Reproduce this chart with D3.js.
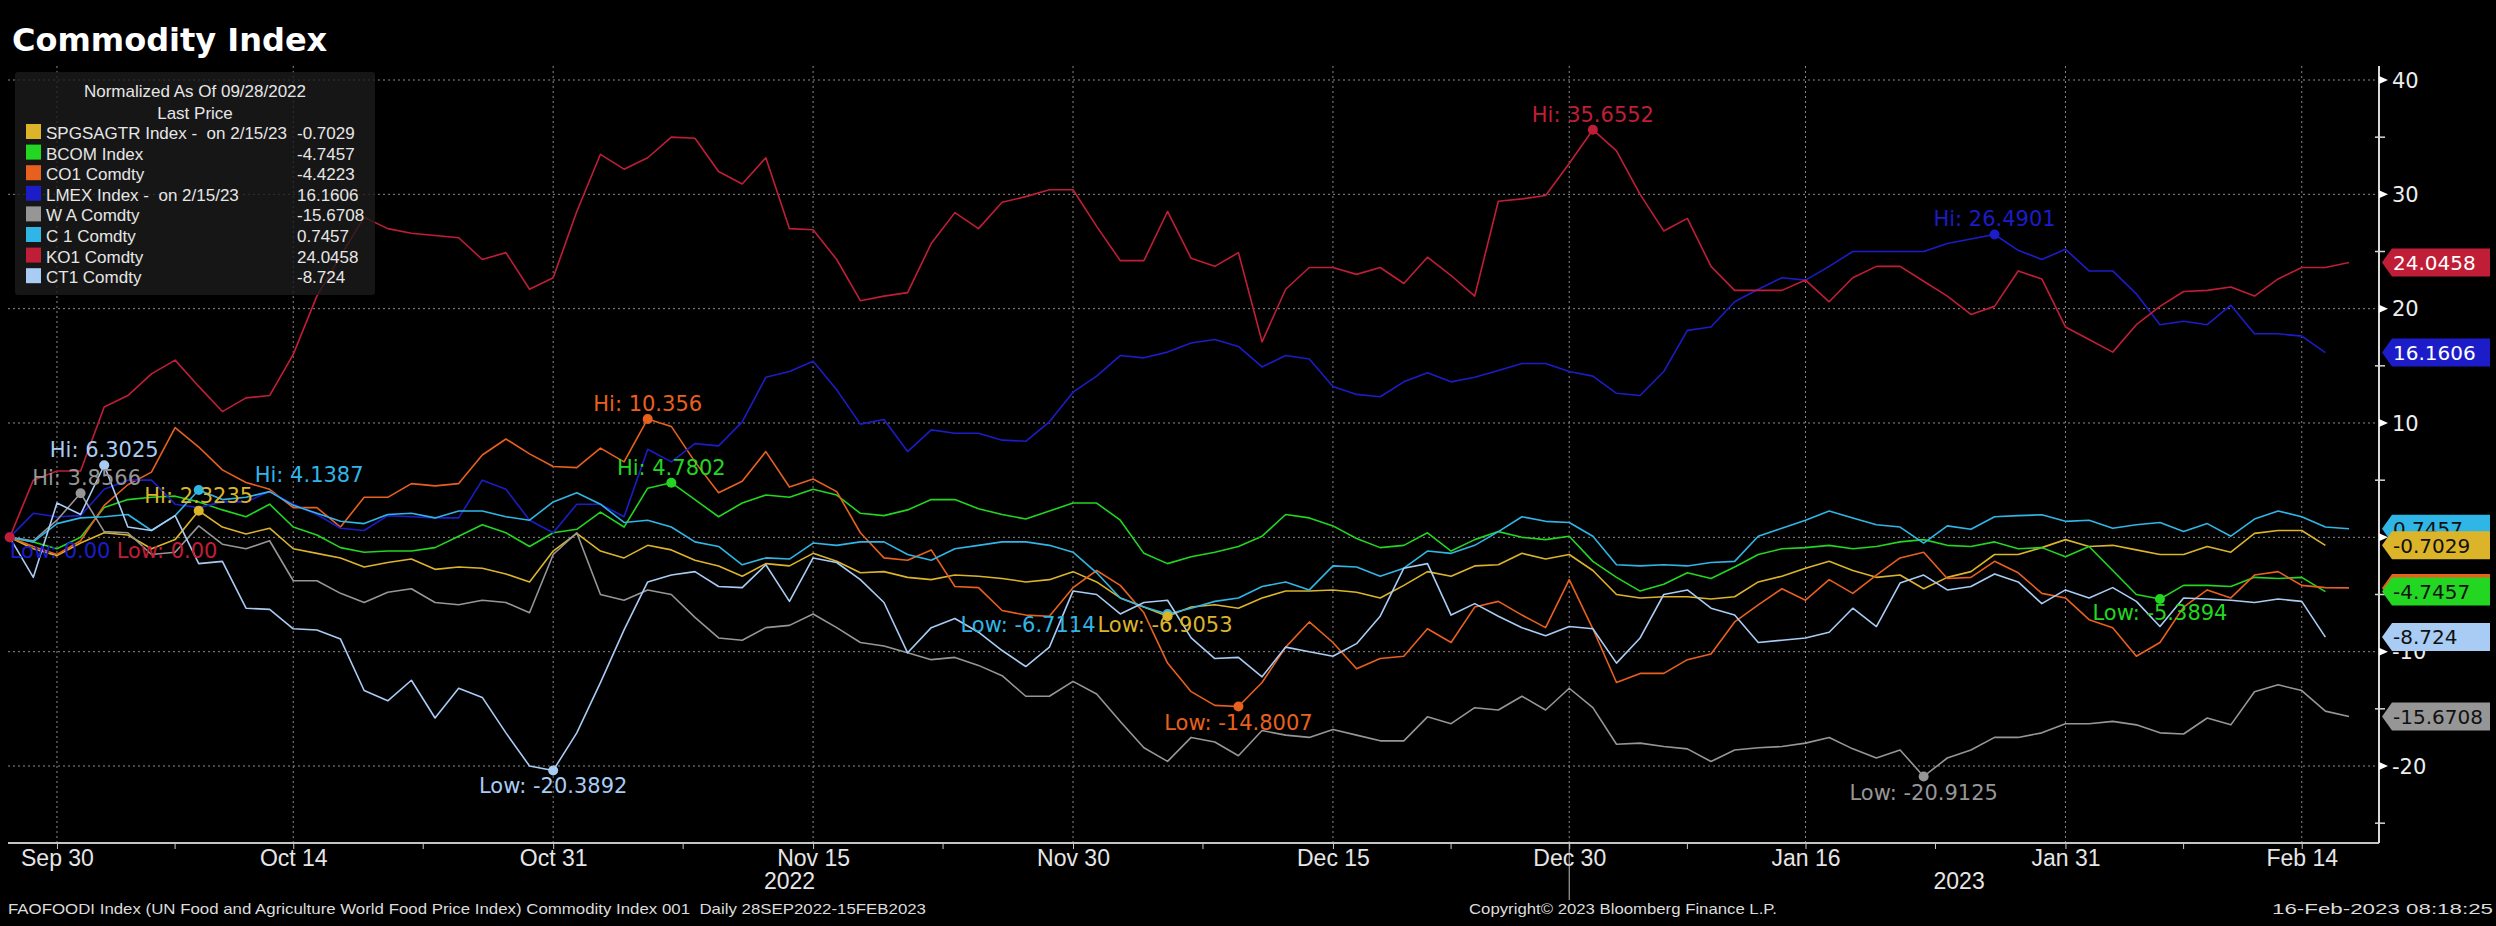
<!DOCTYPE html>
<html lang="en">
<head>
<meta charset="UTF-8">
<title>Commodity Index</title>
<style>
  body { margin: 0; background: #000; }
  svg { display: block; background: #000; }
  .grid line { stroke: #8a8a8a; stroke-width: 1px; stroke-dasharray: 2,3; }
  .xaxis text { fill: #e6e6e6; font: 23px "Liberation Sans Narrow", "Liberation Sans", sans-serif; }
  .xaxis line { stroke: #c8c8c8; }
  .yaxis text { fill: #ededed; font: 21px "DejaVu Sans", sans-serif; }
  .legend text { fill: #e6e6e6; font: 17px "Liberation Sans", sans-serif; white-space: pre; }
  .note { font: 21px "DejaVu Sans", sans-serif; }
  .tag text { font: 20px "DejaVu Sans", sans-serif; }
  .foot { fill: #dcdcdc; font: 15px "Liberation Sans Narrow", "Liberation Sans", sans-serif; }
</style>
</head>
<body>
<script src="https://cdnjs.cloudflare.com/ajax/libs/d3/7.8.5/d3.min.js"></script>
<script>

// ---- data -------------------------------------------------------------

var seriesNames = ["SPGSAGTR Index -  on 2/15/23", "BCOM Index", "CO1 Comdty",
  "LMEX Index -  on 2/15/23", "W A Comdty", "C 1 Comdty", "KO1 Comdty", "CT1 Comdty"];
var lastPrice = ["-0.7029", "-4.7457", "-4.4223", "16.1606", "-15.6708", "0.7457", "24.0458", "-8.724"];
var colors = ["#dcb42a", "#22d622", "#e8601e", "#1c1cc8", "#969696", "#30b6e6", "#c01e36", "#a8ccf4"];

// normalized % change, one value per trading day (null = no print yet)
var spgsagtr = [
  0, -1.0, -1.6, -0.5, 0.4, 0.2, -1.0, -0.2, 2.3235, 0.9,
  0.3, 0.8, -1.0, -1.4, -1.8, -2.6, -2.2, -1.9, -2.8, -2.6,
  -2.7, -3.2, -3.9, -1.2, 0.35, -1.2, -1.8, -0.7, -1.1, -2.0,
  -2.5, -3.4, -2.3, -2.5, -1.4, -2.1, -3.1, -3.0, -3.5, -3.7,
  -3.3, -3.4, -3.6, -3.9, -3.7, -3.0, -3.9, -5.3, -6.1, -6.9053,
  -6.1, -5.9, -6.2, -5.3, -4.7, -4.7, -4.6, -4.8, -5.3, -4.2,
  -3.0, -3.4, -2.5, -2.4, -1.4, -1.9, -1.5, -2.9, -5.0, -5.3,
  -5.2, -5.2, -5.4, -5.2, -3.9, -3.4, -2.7, -2.1, -2.9, -3.5,
  -3.3, -4.5, -3.5, -3.0, -1.5, -1.5, -0.9, -0.2, -0.8, -0.7,
  -1.1, -1.5, -1.5, -0.8, -1.3, 0.35, 0.6, 0.6, -0.7029, null];
var bcom = [
  0, -0.4, -1.0, 0, 2.6, 3.3, 3.5, 3.6, 3.1, 2.4,
  1.8, 2.9, 0.9, 0.2, -0.9, -1.3, -1.2, -1.2, -0.9, 0.1,
  1.1, 0.4, -0.8, 0.4, 0.7, 2.2, 0.9, 4.3, 4.7802, 3.3,
  1.8, 3.0, 3.7, 3.5, 4.2, 3.7, 2.1, 1.9, 2.4, 3.3,
  3.3, 2.5, 2.0, 1.6, 2.3, 3.0, 3.0, 1.5, -1.4, -2.3,
  -1.7, -1.3, -0.8, 0.1, 2.0, 1.7, 1.0, -0.1, -0.9, -0.7,
  0.4, -1.2, -0.2, 0.5, 0.0, -0.2, 0.1, -2.1, -3.5, -4.7,
  -4.1, -3.1, -3.6, -2.6, -1.5, -1.0, -0.9, -0.7, -1.0, -0.8,
  -0.4, -0.2, -0.7, -0.8, -0.4, -1.0, -0.9, -1.7, -0.8, -2.9,
  -5.0, -5.3894, -4.2, -4.2, -4.3, -3.5, -3.6, -3.5, -4.7457, null];
var co1 = [
  0, -0.8, -1.5, -0.3, 2.8, 4.6, 5.7, 9.6, 7.9, 5.9,
  4.8, 4.2, 2.6, 2.6, 0.9, 3.5, 3.5, 4.7, 4.5, 4.7,
  7.2, 8.6, 7.3, 6.2, 6.1, 7.8, 6.6, 10.356, 9.7, 6.6,
  3.9, 4.9, 7.5, 4.4, 5.1, 4.0, 0.4, -1.8, -2.0, -1.1,
  -4.3, -4.4, -6.4, -6.8, -6.9, -4.4, -2.9, -4.2, -6.6, -11.0,
  -13.5, -14.7, -14.8007, -12.7, -9.6, -7.4, -9.2, -11.5, -10.6, -10.4,
  -8.0, -9.2, -6.1, -5.6, -6.8, -7.9, -3.7, -8.0, -12.7, -11.9,
  -11.9, -10.7, -10.2, -7.4, -5.9, -4.5, -5.5, -3.7, -4.9, -3.3,
  -1.8, -1.3, -3.6, -3.5, -2.1, -3.1, -4.9, -5.3, -7.2, -7.9,
  -10.4, -9.2, -6.1, -4.6, -5.3, -3.3, -3.0, -4.2, -4.4, -4.4223];
var lmex = [
  0, 2.1, 1.8, 1.9, 4.2, 5.0, 5.0, 2.9, 2.6, 3.1,
  3.1, 4.0, 2.9, 2.0, 0.8, 0.6, 1.9, 1.8, 1.7, 1.7,
  5.0, 4.2, 1.5, 0.4, 2.9, 2.9, 1.8, 7.7, 6.6, 8.2,
  8.0, 10.1, 14.0, 14.5, 15.4, 12.9, 9.9, 10.3, 7.5, 9.4,
  9.1, 9.1, 8.5, 8.4, 10.1, 12.7, 14.1, 15.9, 15.7, 16.2,
  17.0, 17.3, 16.7, 14.9, 15.9, 15.6, 13.2, 12.5, 12.3, 13.6,
  14.4, 13.6, 14.0, 14.6, 15.2, 15.2, 14.5, 14.1, 12.6, 12.4,
  14.5, 18.1, 18.4, 20.6, 21.7, 22.7, 22.5, 23.7, 25.0, 25.0,
  25.0, 25.0, 25.7, 26.1, 26.4901, 25.1, 24.3, 25.2, 23.3, 23.3,
  21.3, 18.6, 18.9, 18.6, 20.3, 17.8, 17.8, 17.6, 16.1606, null];
var wa = [
  0, -0.3, 1.5, 3.8566, 0.5, 0.4, -1.5, -1.3, 1.0, -0.6,
  -1.0, -0.3, -3.8, -3.8, -4.9, -5.7, -4.8, -4.5, -5.7, -5.9,
  -5.5, -5.7, -6.6, -1.5, 0.4, -5.0, -5.5, -4.6, -5.0, -7.0,
  -8.8, -9.0, -7.9, -7.7, -6.7, -7.9, -9.2, -9.5, -10.1, -10.7,
  -10.5, -11.2, -12.1, -13.9, -13.9, -12.6, -13.7, -16.1, -18.4, -19.6,
  -17.5, -17.9, -19.1, -16.9, -17.3, -17.5, -16.8, -17.3, -17.8, -17.8,
  -15.7, -16.3, -14.9, -15.1, -13.9, -15.1, -13.2, -14.9, -18.1, -18.0,
  -18.3, -18.5, -19.6, -18.6, -18.4, -18.3, -18.0, -17.5, -18.5, -19.3,
  -18.6, -20.9125, -19.3, -18.6, -17.5, -17.5, -17.1, -16.3, -16.3, -16.1,
  -16.4, -17.1, -17.2, -15.8, -16.4, -13.5, -12.9, -13.4, -15.2, -15.6708];
var c1 = [
  0, -0.4, 1.2, 1.7, 1.8, 2.0, 0.6, 1.9, 4.1387, 3.3,
  3.5, 4.0, 2.8, 2.1, 1.4, 1.2, 2.0, 2.1, 1.7, 2.3,
  2.3, 1.8, 1.5, 3.1, 3.9, 2.9, 1.3, 1.5, 0.9, -0.4,
  -0.8, -2.4, -1.8, -1.9, -0.5, -0.7, -0.4, -0.4, -1.5, -2.0,
  -1.0, -0.7, -0.4, -0.4, -0.7, -1.3, -3.1, -5.3, -6.1, -6.7114,
  -6.2, -5.6, -5.3, -4.3, -3.9, -4.6, -2.5, -2.6, -3.4, -2.7,
  -1.2, -1.4, -0.7, 0.5, 1.8, 1.4, 1.3, 0.1, -2.4, -2.5,
  -2.4, -2.5, -2.2, -2.1, 0.1, 0.8, 1.5, 2.3, 1.7, 1.1,
  0.9, -0.5, 1.0, 0.7, 1.8, 1.9, 1.97, 1.4, 1.5, 0.8,
  1.1, 1.3, 0.5, 1.2, 0.1, 1.6, 2.3, 1.8, 0.9, 0.7457];
var ko1 = [
  0, 5.0, 5.8, 5.8, 11.4, 12.4, 14.3, 15.5, 13.2, 11.0,
  12.2, 12.4, 16.0, 21.1, 24.6, 28.0, 27.0, 26.6, 26.4, 26.2,
  24.3, 24.9, 21.7, 22.7, 28.5, 33.5, 32.2, 33.2, 35.0, 34.9,
  32.0, 30.9, 33.2, 27.0, 26.9, 24.3, 20.7, 21.1, 21.4, 25.7,
  28.4, 27.0, 29.3, 29.8, 30.4, 30.4, 27.2, 24.2, 24.2, 28.5,
  24.4, 23.7, 24.9, 17.1, 21.7, 23.6, 23.6, 23.0, 23.6, 22.2,
  24.5, 22.9, 21.1, 29.4, 29.6, 29.9, 32.7, 35.6552, 33.8, 30.0,
  26.8, 27.9, 23.7, 21.6, 21.6, 21.6, 22.5, 20.6, 22.7, 23.7,
  23.7, 22.4, 21.1, 19.5, 20.2, 23.3, 22.6, 18.4, 17.3, 16.2,
  18.6, 20.2, 21.5, 21.6, 21.9, 21.1, 22.6, 23.6, 23.6, 24.0458];
var ct1 = [
  0, -3.5, 3.0, 2.0, 6.3025, 0.9, 0.6, 1.9, -2.3, -2.1,
  -6.2, -6.3, -8.0, -8.1, -8.9, -13.4, -14.3, -12.5, -15.8, -13.2,
  -14.0, -17.1, -20.0, -20.3892, -17.1, -12.7, -8.1, -3.9, -3.3, -3.0,
  -4.3, -4.4, -2.4, -5.6, -1.8, -2.2, -3.7, -5.7, -10.1, -7.9,
  -7.1, -8.3, -9.9, -11.3, -9.6, -4.7, -5.0, -6.7, -5.7, -5.5,
  -8.8, -10.6, -10.5, -12.2, -9.6, -10.0, -10.4, -9.3, -6.9, -2.7,
  -2.3, -6.8, -5.8, -6.9, -7.9, -8.6, -7.8, -8.0, -11.0, -8.8,
  -5.0, -4.6, -6.2, -6.8, -9.2, -9.0, -8.8, -8.3, -6.2, -7.8,
  -4.0, -3.3, -4.6, -4.3, -3.2, -3.9, -5.8, -4.6, -5.3, -4.4,
  -5.6, -7.8, -5.3, -5.4, -5.5, -5.7, -5.4, -5.6, -8.724, null];
var seriesValues = [spgsagtr, bcom, co1, lmex, wa, c1, ko1, ct1];

// trading days: weekdays from 28 Sep 2022, two holidays skipped
var firstDay = "2022-09-28";
var holidays = ["2022-12-26", "2023-01-02"];
var tickDates = ["2022-09-30", "2022-10-14", "2022-10-31", "2022-11-15", "2022-11-30",
  "2022-12-15", "2022-12-30", "2023-01-16", "2023-01-31", "2023-02-14"];
var yTicks = [-20, -10, 0, 10, 20, 30, 40];
var yMinorTicks = [-25, -15, -5, 5, 15, 25, 35];

var extremes = [
  {s: 7, i: 4,  label: "Hi: 6.3025"},
  {s: 4, i: 3,  label: "Hi: 3.8566"},
  {s: 0, i: 8,  label: "Hi: 2.3235"},
  {s: 5, i: 8,  label: "Hi: 4.1387"},
  {s: 3, i: 0,  label: "Low: 0.00"},
  {s: 6, i: 0,  label: "Low: 0.00"},
  {s: 2, i: 27, label: "Hi: 10.356"},
  {s: 1, i: 28, label: "Hi: 4.7802"},
  {s: 7, i: 23, label: "Low: -20.3892"},
  {s: 5, i: 49, label: "Low: -6.7114"},
  {s: 0, i: 49, label: "Low: -6.9053"},
  {s: 2, i: 52, label: "Low: -14.8007"},
  {s: 6, i: 67, label: "Hi: 35.6552"},
  {s: 3, i: 84, label: "Hi: 26.4901"},
  {s: 4, i: 81, label: "Low: -20.9125"},
  {s: 1, i: 91, label: "Low: -5.3894"}
];

// ---- layout -----------------------------------------------------------

var width = 2496, height = 926;
var plotLeft = 8, plotRight = 2379, plotTop = 66, plotBottom = 843;

var parse = d3.timeParse("%Y-%m-%d"), iso = d3.timeFormat("%Y-%m-%d");
var dates = [];
for (var d = parse(firstDay); dates.length < spgsagtr.length; d = d3.timeDay.offset(d, 1)) {
  if (d.getDay() > 0 && d.getDay() < 6 && holidays.indexOf(iso(d)) < 0) dates.push(d);
}
var tickIdx = tickDates.map(function(s){ return dates.map(iso).indexOf(s); });

var x = d3.scaleLinear().domain([0, dates.length - 1]).range([9.7, 2349]);
var y = d3.scaleLinear().domain([-20, 40]).range([766, 80]);

var svg = d3.select("body").append("svg")
  .attr("width", width)
  .attr("height", height);

// title
svg.append("text")
  .attr("x", 12).attr("y", 51)
  .attr("fill", "#fff")
  .style("font", "bold 32px 'DejaVu Sans', sans-serif")
  .text("Commodity Index");

// grid
var grid = svg.append("g").attr("class", "grid");
grid.selectAll(".h").data(yTicks).enter().append("line")
  .attr("x1", plotLeft).attr("x2", plotRight)
  .attr("y1", function(v){ return y(v); })
  .attr("y2", function(v){ return y(v); });
grid.selectAll(".v").data(tickIdx).enter().append("line")
  .attr("x1", function(i){ return x(i); })
  .attr("x2", function(i){ return x(i); })
  .attr("y1", plotTop).attr("y2", plotBottom);

// bottom axis
var fmtTick = d3.timeFormat("%b %-d");
var xAxis = svg.append("g")
  .attr("class", "xaxis")
  .attr("transform", "translate(0," + plotBottom + ")")
  .call(d3.axisBottom(x)
    .tickValues(tickIdx)
    .tickFormat(function(i){ return fmtTick(dates[i]); })
    .tickSize(6)
    .tickPadding(1));
xAxis.select(".domain").remove();

var minorIdx = d3.pairs(tickIdx).map(function(p){ return (p[0] + p[1]) / 2; });
xAxis.selectAll(".minor").data(minorIdx).enter().append("line")
  .attr("x1", function(i){ return x(i); })
  .attr("x2", function(i){ return x(i); })
  .attr("y1", 0).attr("y2", 6);

svg.append("line")
  .attr("x1", plotLeft).attr("x2", plotRight)
  .attr("y1", plotBottom).attr("y2", plotBottom)
  .attr("stroke", "#c4c4c4").attr("stroke-width", 2);

// year labels and separator
var lastOf2022 = d3.max(dates.map(function(dd, i){ return dd.getFullYear() === 2022 ? i : -1; }));
var years = [
  {label: "2022", a: 0, b: lastOf2022},
  {label: "2023", a: lastOf2022, b: dates.length - 1}
];
svg.selectAll(".year").data(years).enter().append("text")
  .attr("x", function(yr){ return (x(yr.a) + x(yr.b)) / 2; })
  .attr("y", 889)
  .attr("text-anchor", "middle")
  .attr("fill", "#e6e6e6")
  .style("font", "23px 'Liberation Sans Narrow', 'Liberation Sans', sans-serif")
  .text(function(yr){ return yr.label; });
svg.append("line")
  .attr("x1", x(lastOf2022)).attr("x2", x(lastOf2022))
  .attr("y1", plotBottom).attr("y2", 900)
  .attr("stroke", "#bdbdbd").attr("stroke-width", 1);

// right axis
var yAxis = svg.append("g").attr("class", "yaxis");
yAxis.append("line")
  .attr("x1", plotRight).attr("x2", plotRight)
  .attr("y1", plotTop).attr("y2", plotBottom)
  .attr("stroke", "#d8d8d8").attr("stroke-width", 2);
yAxis.selectAll(".minor").data(yMinorTicks).enter().append("line")
  .attr("x1", plotRight - 4).attr("x2", plotRight + 6)
  .attr("y1", function(v){ return y(v); })
  .attr("y2", function(v){ return y(v); })
  .attr("stroke", "#d8d8d8").attr("stroke-width", 1.5);
yAxis.selectAll(".arrow").data(yTicks).enter().append("path")
  .attr("d", function(v){
    var yy = y(v);
    return "M" + plotRight + "," + (yy - 4) + "L" + (plotRight + 9) + "," + yy + "L" + plotRight + "," + (yy + 4) + "Z";
  })
  .attr("fill", "#fff");
yAxis.selectAll("text").data(yTicks).enter().append("text")
  .attr("x", plotRight + 13)
  .attr("y", function(v){ return y(v); })
  .attr("dy", "0.36em")
  .text(function(v){ return v < 0 ? "-" + Math.abs(v) : v; });

// lines
var line = d3.line()
  .defined(function(v){ return v != null; })
  .x(function(v, i){ return x(i); })
  .y(function(v){ return y(v); });

svg.selectAll(".series").data(seriesValues).enter().append("path")
  .attr("fill", "none")
  .attr("stroke", function(v, k){ return colors[k]; })
  .attr("stroke-width", 1.6)
  .attr("stroke-linejoin", "round")
  .attr("d", line);

// high / low markers
var labelPlace = [
  [0, -8, "middle"], [6, -8, "middle"], [0, -8, "middle"], [56, -8, "start"],
  [0, 21, "start"], [107, 21, "start"], [0, -8, "middle"], [0, -8, "middle"],
  [0, 23, "middle"], [-72, 18, "end"], [-70, 16, "start"], [0, 23, "middle"],
  [0, -8, "middle"], [0, -8, "middle"], [0, 24, "middle"], [0, 21, "middle"]
];
var notes = svg.append("g");
notes.selectAll("circle").data(extremes).enter().append("circle")
  .attr("cx", function(e){ return x(e.i); })
  .attr("cy", function(e){ return y(seriesValues[e.s][e.i]); })
  .attr("r", 5)
  .attr("fill", function(e){ return colors[e.s]; });
notes.selectAll("text").data(extremes).enter().append("text")
  .attr("class", "note")
  .attr("x", function(e, k){ return x(e.i) + labelPlace[k][0]; })
  .attr("y", function(e, k){ return y(seriesValues[e.s][e.i]) + labelPlace[k][1]; })
  .attr("text-anchor", function(e, k){ return labelPlace[k][2]; })
  .attr("fill", function(e){ return colors[e.s]; })
  .text(function(e){ return e.label; });

// last value tags (drawn back to front)
var tagOrder = d3.range(seriesValues.length).reverse();
var tags = svg.selectAll(".tag").data(tagOrder).enter().append("g")
  .attr("class", "tag")
  .attr("transform", function(k){ return "translate(2382," + y(+lastPrice[k]) + ")"; });
tags.append("path")
  .attr("d", "M0,0L10,-14L108,-14L108,14L10,14Z")
  .attr("fill", function(k){ return colors[k]; });
tags.append("text")
  .attr("x", 11).attr("dy", "0.36em")
  .attr("fill", function(k){ return k === 3 || k === 6 ? "#fff" : "#111"; })
  .text(function(k){ return lastPrice[k]; });

// legend
var legend = svg.append("g").attr("class", "legend");
legend.append("rect")
  .attr("x", 15).attr("y", 72).attr("width", 360).attr("height", 223)
  .attr("rx", 3)
  .attr("fill", "#1c1c1c").attr("fill-opacity", 0.8);
legend.append("text").attr("x", 195).attr("y", 97).attr("text-anchor", "middle")
  .text("Normalized As Of 09/28/2022");
legend.append("text").attr("x", 195).attr("y", 119).attr("text-anchor", "middle")
  .text("Last Price");
var rows = legend.selectAll(".row").data(seriesNames).enter().append("g")
  .attr("transform", function(n, k){ return "translate(0," + (139 + k * 20.6) + ")"; });
rows.append("rect")
  .attr("x", 26).attr("y", -15).attr("width", 15).attr("height", 15)
  .attr("fill", function(n, k){ return colors[k]; });
rows.append("text").attr("x", 46).text(function(n){ return n; });
rows.append("text").attr("x", 297).text(function(n, k){ return lastPrice[k]; });

// footer
svg.append("text").attr("class", "foot")
  .attr("x", 8).attr("y", 914)
  .attr("textLength", 918).attr("lengthAdjust", "spacingAndGlyphs")
  .style("white-space", "pre")
  .text("FAOFOODI Index (UN Food and Agriculture World Food Price Index) Commodity Index 001  Daily 28SEP2022-15FEB2023");
svg.append("text").attr("class", "foot")
  .attr("x", 1469).attr("y", 914)
  .attr("textLength", 308).attr("lengthAdjust", "spacingAndGlyphs")
  .text("Copyright\u00a9 2023 Bloomberg Finance L.P.");
svg.append("text").attr("class", "foot")
  .attr("x", 2272).attr("y", 914)
  .attr("textLength", 221).attr("lengthAdjust", "spacingAndGlyphs")
  .text("16-Feb-2023 08:18:25");

</script>
</body>
</html>
